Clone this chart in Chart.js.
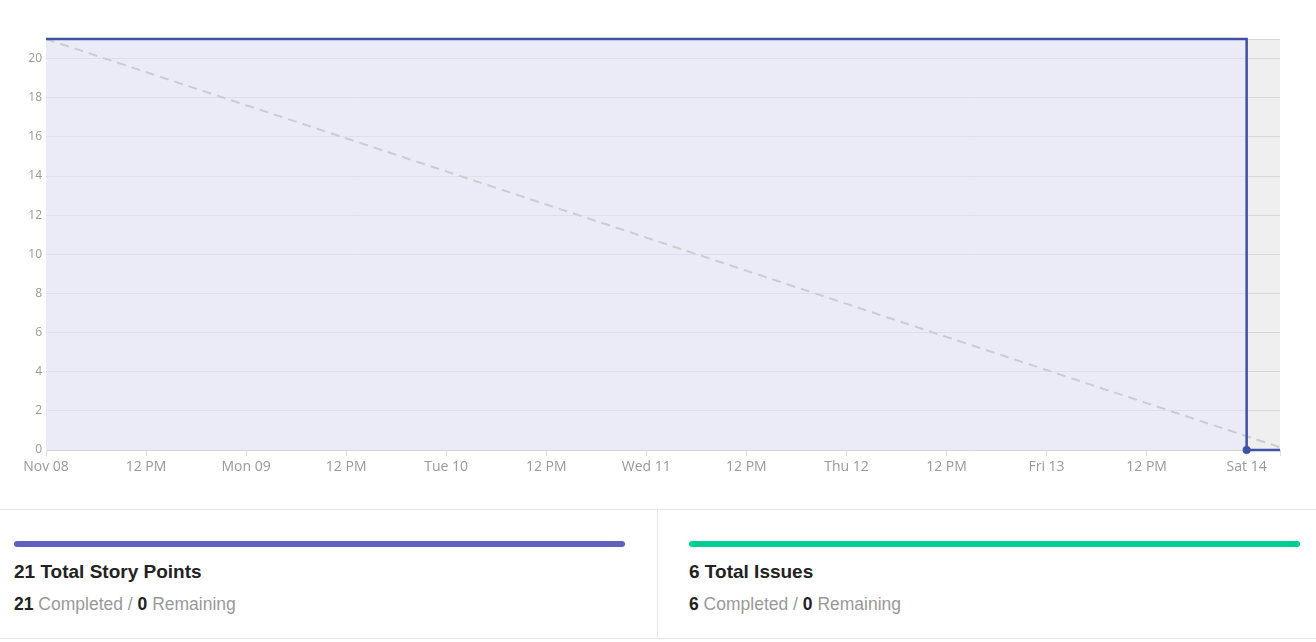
<!DOCTYPE html>
<html>
<head>
<meta charset="utf-8">
<script src="https://cdn.jsdelivr.net/npm/chart.js@4/dist/chart.umd.min.js"></script>
<style>
  html, body { margin: 0; padding: 0; background: #fff; }
  body { width: 1316px; height: 642px; position: relative; overflow: hidden; font-family: "Liberation Sans", Arial, sans-serif; }
  #chartWrap { position: absolute; left: 0; top: 0; width: 1316px; height: 480px; }
  #stats { position: absolute; left: 0; top: 509px; width: 1316px; height: 130px; box-sizing: border-box;
           border-top: 1px solid #e6e6e6; border-bottom: 1px solid #e6e6e6; }
  .card { position: absolute; top: 0; height: 100%; box-sizing: border-box; }
  .bar { position: absolute; top: 31px; height: 6px; border-radius: 3px; }
  .title { position: absolute; top: 52px; font-size: 19px; line-height: 19px; font-weight: bold; color: #222; white-space: nowrap; }
  .sub { position: absolute; top: 86px; font-size: 17.5px; line-height: 17.5px; color: #999; white-space: nowrap; }
  .sub b { color: #222; }
</style>
</head>
<body>
<div id="chartWrap"><canvas id="c" width="1316" height="480"></canvas></div>
<div id="stats">
  <div class="card" style="left:0;width:658px;border-right:1px solid #e6e6e6;">
    <div class="bar" style="left:14px;width:611px;background:#6060c0;"></div>
    <div class="title" id="t1" style="left:14px;"></div>
    <div class="sub" id="s1" style="left:14px;"></div>
  </div>
  <div class="card" style="left:658px;width:658px;">
    <div class="bar" style="left:31px;width:611px;background:#00cf8f;"></div>
    <div class="title" id="t2" style="left:31px;"></div>
    <div class="sub" id="s2" style="left:31px;"></div>
  </div>
</div>
<script>
// ---- data ----
const tickLabels = ['Nov 08','12 PM','Mon 09','12 PM','Tue 10','12 PM','Wed 11','12 PM','Thu 12','12 PM','Fri 13','12 PM','Sat 14'];
const tickStepHours = 12;
const xMaxHours = 148;
const yMax = 21;
const burnHours = [0, 144, 144, 148];
const burnPoints = [21, 21, 0, 0];
const guideHours = [0, 149];
const guidePoints = [21, 0];
const storyTotal = 21, storyCompleted = 21, storyRemaining = 0;
const issueTotal = 6, issueCompleted = 6, issueRemaining = 0;

document.getElementById('t1').textContent = storyTotal + ' Total Story Points';
document.getElementById('s1').innerHTML = '<b>' + storyCompleted + '</b> Completed / <b>' + storyRemaining + '</b> Remaining';
document.getElementById('t2').textContent = issueTotal + ' Total Issues';
document.getElementById('s2').innerHTML = '<b>' + issueCompleted + '</b> Completed / <b>' + issueRemaining + '</b> Remaining';

const burnData = burnHours.map((h, i) => ({ x: h, y: burnPoints[i] }));
const guideData = guideHours.map((h, i) => ({ x: h, y: guidePoints[i] }));

const bgPlugin = {
  id: 'areaBg',
  beforeDraw(chart) {
    const a = chart.chartArea, ctx = chart.ctx;
    ctx.save();
    ctx.fillStyle = '#efefef';
    ctx.fillRect(a.left, a.top, a.right - a.left, a.bottom - a.top);
    ctx.restore();
  }
};

new Chart(document.getElementById('c'), {
  type: 'line',
  data: {
    datasets: [
      {
        data: burnData,
        borderColor: '#3f51a5',
        borderWidth: 2.5,
        backgroundColor: 'rgba(231,231,255,0.5)',
        fill: 'origin',
        tension: 0,
        clip: false,
        pointRadius: burnHours.map((h, i) => (i === 2 ? 4 : 0)),
        pointBackgroundColor: '#3f51a5',
        pointBorderColor: '#3f51a5',
        pointBorderWidth: 0,
        order: 1
      },
      {
        data: guideData,
        borderColor: '#cccccc',
        borderWidth: 2,
        borderDash: [9, 6],
        fill: false,
        pointRadius: 0,
        tension: 0,
        order: 2
      }
    ]
  },
  options: {
    responsive: false,
    animation: false,
    layout: { padding: { top: 39, right: 36, left: 0, bottom: 0 } },
    plugins: {
      legend: { display: false },
      tooltip: { enabled: false },
      filler: { drawTime: 'beforeDatasetsDraw' }
    },
    scales: {
      x: {
        type: 'linear',
        min: 0,
        max: xMaxHours,
        afterFit(s) { s.height = 30; },
        afterBuildTicks(s) {
          const t = tickLabels.map((l, i) => ({ value: i * tickStepHours }));
          t.push({ value: xMaxHours });
          s.ticks = t;
        },
        border: { display: false },
        grid: { drawOnChartArea: false, drawTicks: true, tickLength: 6, color: '#dddddd' },
        ticks: {
          autoSkip: false,
          maxRotation: 0,
          padding: 3,
          color: '#999',
          font: { family: 'Open Sans', size: 14 },
          callback(v) {
            if (v % tickStepHours !== 0) return '';
            return tickLabels[v / tickStepHours] || '';
          }
        }
      },
      y: {
        min: 0,
        max: yMax,
        afterFit(s) { s.width = 46; },
        border: { display: false },
        grid: { color: '#d6d6d6', drawTicks: false, tickLength: 0 },
        ticks: {
          stepSize: 2,
          padding: 4,
          color: '#999',
          font: { family: 'Open Sans', size: 12 },
          callback(v) { return v % 2 === 0 ? String(v) : ''; }
        }
      }
    }
  },
  plugins: [bgPlugin]
});
</script>
</body>
</html>
